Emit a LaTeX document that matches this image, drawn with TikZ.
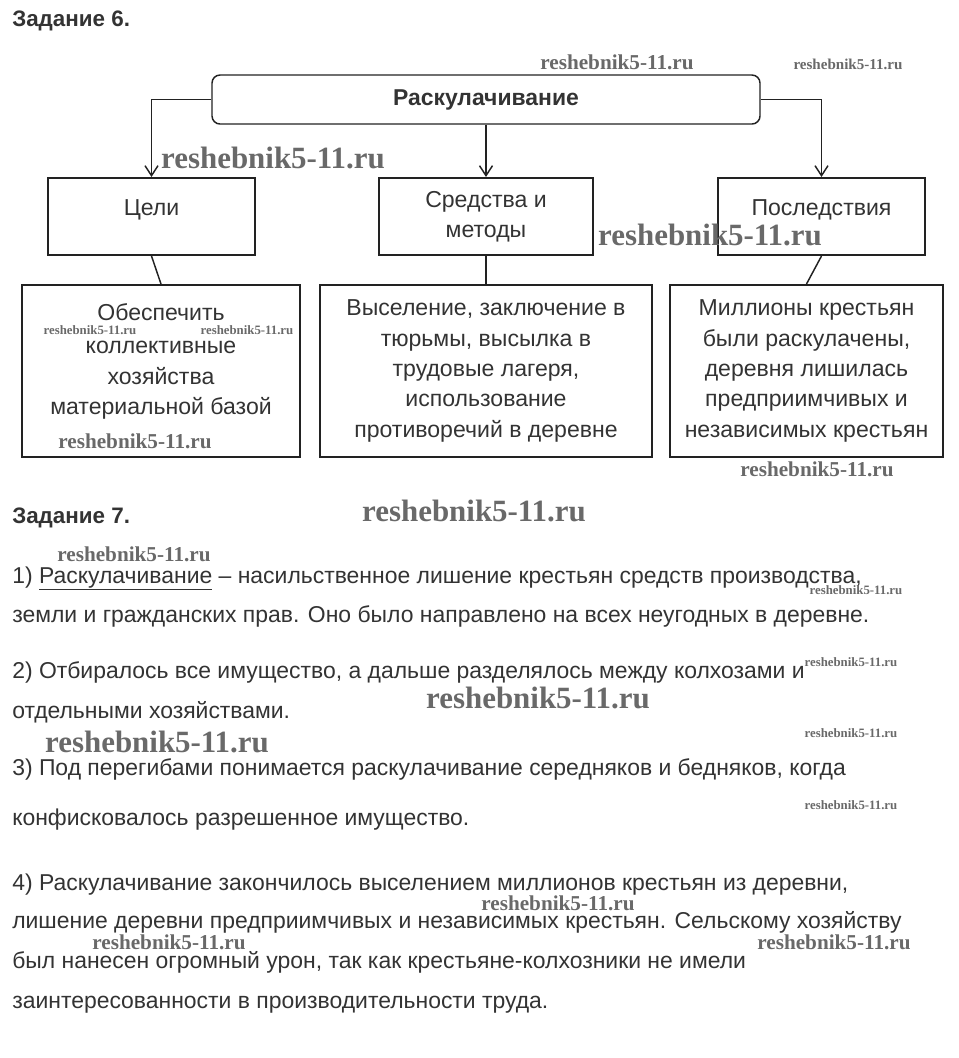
\documentclass[tikz,border=0pt]{standalone}
\usepackage{fontspec}
\setmainfont{Liberation Sans}
\newfontfamily\wmfont{Liberation Serif}
\usetikzlibrary{arrows.meta,positioning}
\newdimen\pxu \pxu=0.75pt
\definecolor{ink}{RGB}{51,51,51}
\definecolor{frame}{RGB}{34,34,34}
\definecolor{stamp}{RGB}{105,105,105}
\tikzset{
  link/.style={draw=frame,line width=1.1pt},
  flow/.style={link,-{Straight Barb[length=7.5pt,width=9.75pt]}},
  headbox/.style={draw=frame,line width=1.1pt,rounded corners=8\pxu,
                  minimum width=548\pxu,minimum height=49\pxu,text=ink,
                  font=\fontsize{17.2}{20}\selectfont\bfseries},
  itembox/.style={draw=frame,line width=1.5pt,align=center,text=ink,
                  minimum height=77\pxu,font=\fontsize{17.3}{22.8}\selectfont},
  onebox/.style={itembox,text height=17\pxu,text depth=20\pxu},
  detailbox/.style={itembox,minimum height=172\pxu},
  heading/.style={anchor=base west,inner sep=0pt,text=ink,
                  font=\fontsize{16.8}{20}\selectfont\bfseries},
  answer/.style={anchor=base west,inner sep=0pt,text=ink,
                 font=\fontsize{17.2}{20}\selectfont},
  stampmark/.style={inner sep=0pt,text=stamp}
}
\begin{document}
\begin{tikzpicture}[x=0.75pt,y=-0.75pt]
  \useasboundingbox (0,0) rectangle (958,1058);
  \node[heading] (task6) at (12,26) {Задание 6.};
  \node[headbox] (rask) at (486,99.5) {Раскулачивание};
  \node[onebox,minimum width=207\pxu] (goals) at (151.5,216.5) {Цели};
  \node[itembox,minimum width=214\pxu] (means) at (486,216.5) {Средства и\\методы};
  \node[onebox,minimum width=207\pxu] (cons) at (821.5,216.5) {Последствия};
  \node[detailbox,minimum width=278\pxu,below=28\pxu of goals,xshift=9.5\pxu] (goalsdet)
    {Обеспечить\\[3\pxu]коллективные\\хозяйства\\материальной базой\rule[-24\pxu]{0pt}{1pt}};
  \node[detailbox,minimum width=332\pxu,below=28\pxu of means] (meansdet)
    {Выселение, заключение в\\тюрьмы, высылка в\\трудовые лагеря,\\использование\\противоречий в деревне};
  \node[detailbox,minimum width=273\pxu,below=28\pxu of cons,xshift=-15\pxu] (consdet)
    {Миллионы крестьян\\были раскулачены,\\деревня лишилась\\предприимчивых и\\независимых крестьян};
  \draw[flow] (rask.west) -| (goals);
  \draw[flow] (rask.south) -- (means.north);
  \draw[flow] (rask.east) -| (cons);
  \draw[link] (goals.south) -- (goalsdet.north);
  \draw[link] (means.south) -- (meansdet.north);
  \draw[link] (cons.south) -- (consdet.north);

  \node[heading] (task7) at (12,523) {Задание 7.};
  \node[answer] (ans1a) at (12,583)
    {1) \underline{Раскулачивание} – насильственное лишение крестьян средств производства,};
  \node[answer] (ans1b) at (12,622)
    {земли и гражданских прав. Оно было направлено на всех неугодных в деревне.};
  \node[answer] (ans2a) at (12,678)
    {2) Отбиралось все имущество, а дальше разделялось между колхозами и};
  \node[answer] (ans2b) at (12,718) {отдельными хозяйствами.};
  \node[answer] (ans3a) at (12,775)
    {3) Под перегибами понимается раскулачивание середняков и бедняков, когда};
  \node[answer] (ans3b) at (12,825) {конфисковалось разрешенное имущество.};
  \node[answer] (ans4a) at (12,890)
    {4) Раскулачивание закончилось выселением миллионов крестьян из деревни,};
  \node[answer] (ans4b) at (12,928)
    {лишение деревни предприимчивых и независимых крестьян. Сельскому хозяйству};
  \node[answer] (ans4c) at (12,968)
    {был нанесен огромный урон, так как крестьяне-колхозники не имели};
  \node[answer] (ans4d) at (12,1008)
    {заинтересованности в производительности труда.};

  \foreach \wx/\wy/\ws [count=\k] in {617/62/15.9, 848/64/11.3, 273/158/23.2,
      710/235/23.2, 90/330/9.6, 247/330/9.6, 135/441/15.9, 817/469/15.9,
      474/511/23.2, 134/554/15.9, 856/590/9.6, 851/662/9.6, 538/698/23.2,
      157/742/23.2, 851/733/9.6, 851/805/9.6, 558/903/15.9, 169/942/15.9,
      834/942/15.9}
    \node[stampmark,font=\wmfont\bfseries\fontsize{\ws}{\ws}\selectfont]
      (mark\k) at (\wx,\wy) {reshebnik5-11.ru};
\end{tikzpicture}
\end{document}
